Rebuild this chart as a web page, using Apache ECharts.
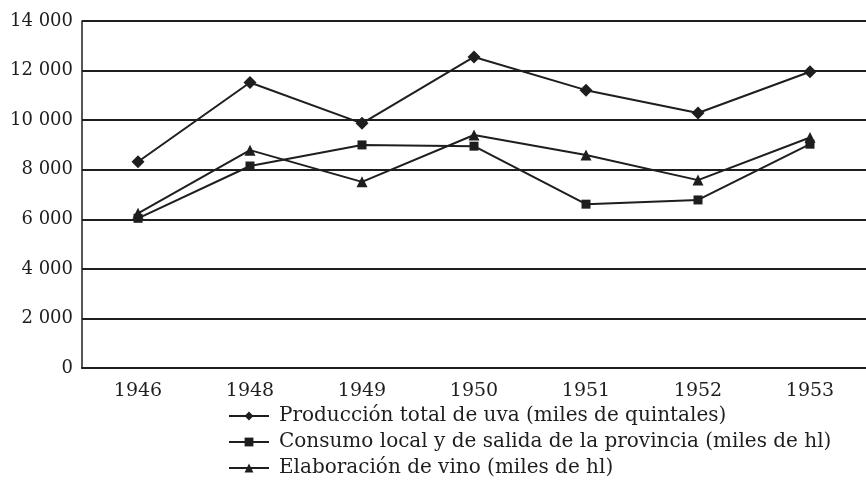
<!DOCTYPE html>
<html>
<head>
<meta charset="utf-8">
<script src="https://cdn.jsdelivr.net/npm/echarts@6/dist/echarts.min.js"></script>
<style>
html,body{margin:0;padding:0;background:#fff;}
#chart{width:866px;height:501px;}
</style>
</head>
<body>
<div id="chart"></div>
<script>
var categories = ['1946', '1948', '1949', '1950', '1951', '1952', '1953'];
var produccion = [8320, 11520, 9870, 12550, 11210, 10290, 11950];
var consumo = [6040, 8150, 9000, 8950, 6610, 6780, 9030];
var elaboracion = [6240, 8790, 7510, 9400, 8590, 7580, 9300];
var seriesNames = [
  'Producción total de uva (miles de quintales)',
  'Consumo local y de salida de la provincia (miles de hl)',
  'Elaboración de vino (miles de hl)'
];

var FONT = 'DejaVu Serif';
var INK = '#1e1e1e';
var chart = echarts.init(document.getElementById('chart'), null, {renderer: 'canvas'});

function mkSeries(name, data, symbol, size) {
  return {
    name: name,
    type: 'line',
    data: data,
    symbol: symbol,
    symbolSize: size,
    showAllSymbol: true,
    animation: false,
    lineStyle: {color: INK, width: 2},
    itemStyle: {color: INK, borderWidth: 0}
  };
}

chart.setOption({
  animation: false,
  backgroundColor: '#ffffff',
  grid: {left: 82, top: 21, width: 797, height: 347, containLabel: false},
  legend: {
    orient: 'vertical',
    left: 223,
    top: 401,
    itemWidth: 40,
    itemHeight: 11,
    itemGap: 6,
    lineStyle: {width: 2, color: INK},
    textStyle: {fontFamily: FONT, fontSize: 20, lineHeight: 20, color: INK, padding: [0, 0, 0, 5]},
    data: seriesNames
  },
  xAxis: {
    type: 'category',
    data: categories,
    boundaryGap: true,
    axisLine: {show: true, lineStyle: {color: INK, width: 2}},
    axisTick: {show: false},
    axisLabel: {fontFamily: FONT, fontSize: 19, color: INK, margin: 14},
    splitLine: {show: false}
  },
  yAxis: {
    type: 'value',
    min: 0,
    max: 14000,
    interval: 2000,
    axisLine: {show: true, lineStyle: {color: INK, width: 1.5}},
    axisTick: {show: false},
    axisLabel: {
      fontFamily: FONT, fontSize: 18, color: INK, margin: 9,
      formatter: function (v) {
        var s = String(v);
        if (s.length > 3) s = s.slice(0, s.length - 3) + ' ' + s.slice(-3);
        return s;
      }
    },
    splitLine: {show: true, lineStyle: {color: INK, width: 1.8}}
  },
  series: [
    mkSeries(seriesNames[0], produccion, 'diamond', 13),
    mkSeries(seriesNames[1], consumo, 'rect', 9),
    mkSeries(seriesNames[2], elaboracion, 'triangle', 11)
  ]
});
</script>
</body>
</html>
